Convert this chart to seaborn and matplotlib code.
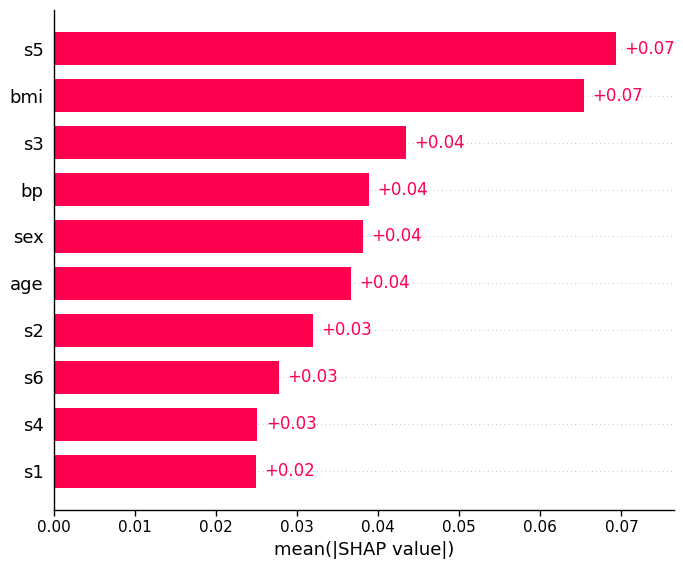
import matplotlib
matplotlib.use("Agg")
import matplotlib.pyplot as plt
import pandas as pd
import seaborn as sns

# mean |SHAP| per feature
features = ['s5', 'bmi', 's3', 'bp', 'sex', 'age', 's2', 's6', 's4', 's1']
mean_abs_shap = [0.0693, 0.0654, 0.0434, 0.0389, 0.0381, 0.0366, 0.0319, 0.0277, 0.0251, 0.0249]

SHAP_RED = '#ff0051'

df = pd.DataFrame({'feature': features, 'value': mean_abs_shap})

sns.set_style('white')
plt.rcParams['font.family'] = ['DejaVu Sans']
plt.rcParams['text.color'] = 'black'
plt.rcParams['axes.labelcolor'] = 'black'
plt.rcParams['xtick.color'] = 'black'
plt.rcParams['ytick.color'] = 'black'

fig = plt.figure(figsize=(6.83, 5.68), dpi=100)
ax = fig.add_axes([0.079, 0.102, 0.908, 0.880])

# dotted guide lines behind the bars
for i in range(len(features)):
    ax.axhline(i, color='#888888', lw=0.5, dashes=(1, 5), zorder=-1)

sns.barplot(data=df, x='value', y='feature', orient='h', color=SHAP_RED,
            saturation=1, width=0.7, edgecolor='none', ax=ax)

for i, v in enumerate(mean_abs_shap):
    ax.annotate('+' + format(v, '.2f'), (v, i), xytext=(6, 0), textcoords='offset points',
                ha='left', va='center', color=SHAP_RED, fontsize=12)

ax.set_xlim(0, 0.0765)
ax.set_ylim(len(features) - 0.17, -0.82)
ax.set_xticks([0.00, 0.01, 0.02, 0.03, 0.04, 0.05, 0.06, 0.07])
ax.xaxis.set_major_formatter(matplotlib.ticker.FormatStrFormatter('%.2f'))
ax.set_xlabel('mean(|SHAP value|)', fontsize=13, color='black')
ax.set_ylabel('')
ax.tick_params(axis='y', length=0, labelsize=13, pad=7.5, colors='black')
ax.tick_params(axis='x', labelsize=11, length=4, width=1, direction='out', bottom=True, colors='black')
ax.spines['right'].set_visible(False)
ax.spines['top'].set_visible(False)
for s in ['left', 'bottom']:
    ax.spines[s].set_color('black')
    ax.spines[s].set_linewidth(1)

fig.savefig('out.png', dpi=100)
